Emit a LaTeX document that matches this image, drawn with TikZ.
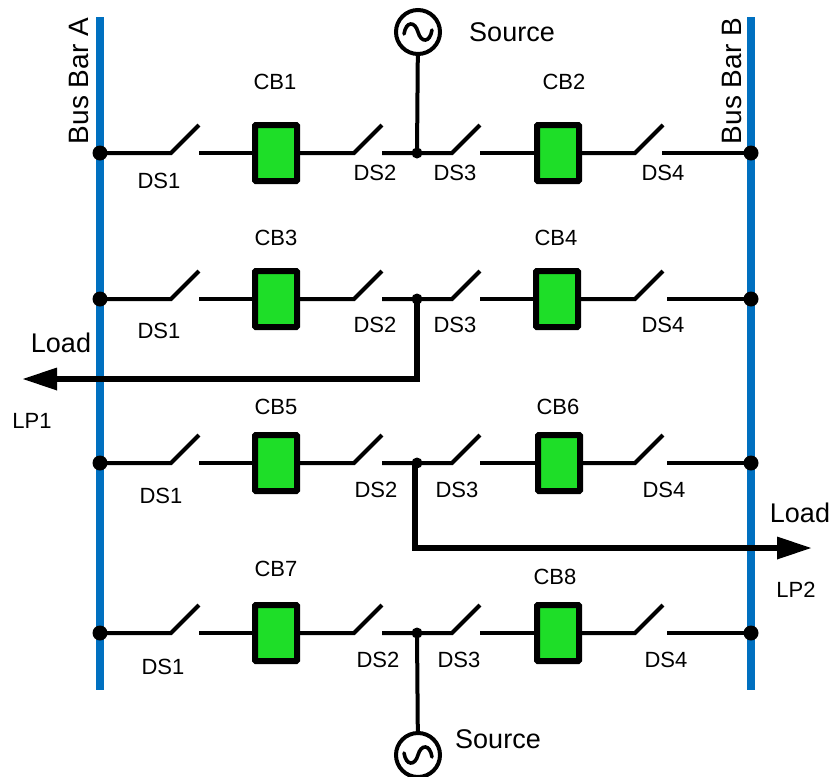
\documentclass[tikz,border=0pt]{standalone}
\usepackage{fontspec}
\setmainfont{Liberation Sans}
\usetikzlibrary{arrows.meta}
\tikzset{
  x=1pt,y=-1pt,
  busbar/.style={line width=7.6pt,draw=busblue},
  wire/.style={line width=4pt,draw=black,line join=miter},
  loadwire/.style={line width=6pt,draw=black,-{Triangle[length=34pt,width=23pt,line width=0pt]}},
  cbbox/.style={draw=black,fill=cbgreen,line width=6pt,rounded corners=0.8pt,minimum width=42pt,minimum height=56pt,inner sep=0pt,outer sep=3pt},
  busdot/.style={circle,fill=black,minimum size=15pt,inner sep=0pt},
  middot/.style={circle,fill=black,minimum size=11pt,inner sep=0pt},
  srccircle/.style={circle,draw=black,line width=4pt,fill=white,minimum size=44pt,inner sep=0pt,outer sep=2pt},
  sine/.style={line width=3.6pt,line cap=round},
  lab/.style={inner sep=0pt,text height=15.6pt,text depth=0pt,font=\fontsize{22}{24}\selectfont},
  bigtext/.style={inner sep=0pt,text height=19.4pt,text depth=0pt,font=\fontsize{27}{30}\selectfont},
  bustext/.style={inner sep=0pt,text height=20pt,text depth=0pt,rotate=90,font=\fontsize{28}{30}\selectfont},
}
\definecolor{busblue}{RGB}{0,112,192}
\definecolor{cbgreen}{RGB}{30,222,40}
% #1 suffix, #2 y, #3 x of right box centre, #4 x of last contact
\newcommand{\feeder}[4]{%
  \node[busdot] (a#1) at (100,#2) {};
  \node[busdot] (b#1) at (751,#2) {};
  \node[middot] (j#1) at (417,#2) {};
  \node[cbbox] (cbl#1) at (276,#2) {};
  \node[cbbox] (cbr#1) at (#3,#2) {};
  \coordinate (h1#1) at (171,#2); \coordinate (t1#1) at (199,#2-28); \coordinate (c1#1) at (199,#2);
  \coordinate (h2#1) at (354,#2); \coordinate (t2#1) at (382,#2-28); \coordinate (c2#1) at (382,#2);
  \coordinate (h3#1) at (452,#2); \coordinate (t3#1) at (480,#2-28); \coordinate (c3#1) at (480,#2);
  \coordinate (h4#1) at (635,#2); \coordinate (t4#1) at (663,#2-28); \coordinate (c4#1) at (#4,#2);
  \draw[wire] (a#1.center) -- (h1#1) -- (t1#1);
  \draw[wire] (c1#1) -- (cbl#1.west);
  \draw[wire] (cbl#1.east) -- (h2#1) -- (t2#1);
  \draw[wire] (c2#1) -- (j#1.center) -- (h3#1) -- (t3#1);
  \draw[wire] (c3#1) -- (cbr#1.west);
  \draw[wire] (cbr#1.east) -- (h4#1) -- (t4#1);
  \draw[wire] (c4#1) -- (b#1.center);
}
\begin{document}
\begin{tikzpicture}
\useasboundingbox (0,0) rectangle (831,777);
\coordinate (at) at (100,17); \coordinate (ab) at (100,690);
\coordinate (bt) at (751,17); \coordinate (bb) at (751,690);
\draw[busbar] (at) -- (ab);
\draw[busbar] (bt) -- (bb);

\feeder{1}{153}{558}{662}
\feeder{2}{299}{557}{667}
\feeder{3}{463}{559}{667}
\feeder{4}{633}{558}{667}

% sources
\node[srccircle] (s1) at (418,32) {};
\node[srccircle] (s2) at (418,755) {};
\draw[wire] (s1) -- (j1.center);
\draw[wire] (s2) -- (j4.center);
\begin{scope}[shift={(s1.center)}]
\draw[sine] (-14,2) .. controls (-12,-11) and (-3,-11) .. (0,0) .. controls (3,11) and (12,11) .. (14,-2);
\end{scope}
\begin{scope}[shift={(s2.center)}]
\draw[sine] (-14,-2) .. controls (-12,11) and (-3,11) .. (0,0) .. controls (3,-11) and (12,-11) .. (14,2);
\end{scope}

% load feeders
\coordinate (lc1) at (417,379); \coordinate (lt1) at (23,379);
\coordinate (lc2) at (415,548); \coordinate (lt2) at (811,548);
\coordinate (ls2) at (415,463);
\draw[loadwire] (j2.center) -- (lc1) -- (lt1);
\draw[loadwire] (ls2) -- (lc2) -- (lt2);

% labels
\node[bustext] (busa) at (78,81) {Bus Bar A};
\node[bustext] (busb) at (731,81) {Bus Bar B};
\node[bigtext] (src1) at (512,32) {Source};
\node[bigtext] (src2) at (498,739) {Source};
\node[bigtext] (load1) at (61,343) {Load};
\node[bigtext] (load2) at (800,513) {Load};
\node[lab] (lp1) at (32,421) {LP1};
\node[lab] (lp2) at (796,590) {LP2};

\node[lab] (cb1) at (275,82) {CB1};
\node[lab] (cb2) at (564,82) {CB2};
\node[lab] (cb3) at (276,238) {CB3};
\node[lab] (cb4) at (556,238) {CB4};
\node[lab] (cb5) at (276,407) {CB5};
\node[lab] (cb6) at (558,407) {CB6};
\node[lab] (cb7) at (276,569) {CB7};
\node[lab] (cb8) at (555,577) {CB8};

\node[lab] (d11) at (159,181) {DS1};
\node[lab] (d12) at (375,173) {DS2};
\node[lab] (d13) at (455,173) {DS3};
\node[lab] (d14) at (663,173) {DS4};
\node[lab] (d21) at (159,331) {DS1};
\node[lab] (d22) at (375,325) {DS2};
\node[lab] (d23) at (455,325) {DS3};
\node[lab] (d24) at (663,325) {DS4};
\node[lab] (d31) at (161,496) {DS1};
\node[lab] (d32) at (376,490) {DS2};
\node[lab] (d33) at (457,490) {DS3};
\node[lab] (d34) at (664,490) {DS4};
\node[lab] (d41) at (163,667) {DS1};
\node[lab] (d42) at (378,660) {DS2};
\node[lab] (d43) at (459,660) {DS3};
\node[lab] (d44) at (666,660) {DS4};
\end{tikzpicture}
\end{document}
